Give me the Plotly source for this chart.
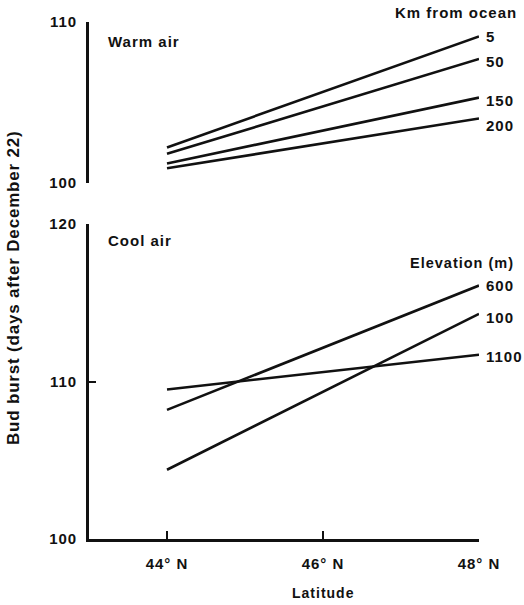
import plotly.graph_objects as go

# Latitude (degrees N) at the two ends of each fitted line
latitude = [44, 48]
lat_ticks = [44, 46, 48]
lat_labels = ["44° N", "46° N", "48° N"]

# Warm air: bud burst by distance from the ocean (km)
warm_names = ["5", "50", "150", "200"]
warm_values = [
    [102.2, 109.1],
    [101.8, 107.7],
    [101.2, 105.3],
    [100.9, 104.0],
]

# Cool air: bud burst by elevation (m)
cool_names = ["600", "100", "1100"]
cool_values = [
    [108.2, 116.1],
    [104.4, 114.3],
    [109.5, 111.7],
]

warm_ticks = [100, 110]
cool_ticks = [100, 110, 120]

FONT = "Liberation Sans"
INK = "#111111"


def tracked(text, spacing=1.0):
    """Bold text with a little letter spacing, like the typeset original."""
    return f'<span style="letter-spacing:{spacing}px">{text}</span>'


def bold(size):
    return dict(family=FONT, size=size, color=INK, weight="bold")


# downward nudge (px) of each end label, so labels clear one another
warm_label_dy = [0, 3, 3, 7]
cool_label_dy = [0, 4, 2]

fig = go.Figure()


def add_group(names, values, dys, xa, ya):
    for name, vals, dy in zip(names, values, dys):
        fig.add_trace(go.Scatter(x=latitude, y=vals, mode="lines", xaxis=xa, yaxis=ya,
                                 line=dict(color=INK, width=2.6), showlegend=False,
                                 name=name))
        fig.add_annotation(x=latitude[-1], y=vals[-1], xref=xa, yref=ya,
                           text=tracked(name), showarrow=False, xanchor="left",
                           yanchor="middle", xshift=5, yshift=-dy, font=bold(15))


add_group(warm_names, warm_values, warm_label_dy, "x2", "y2")
add_group(cool_names, cool_values, cool_label_dy, "x", "y")

axis_common = dict(showline=True, linecolor=INK, linewidth=2.6, ticks="inside",
                   tickwidth=2, tickcolor=INK, showgrid=False, zeroline=False,
                   tickfont=bold(15))

fig.update_layout(
    width=524, height=605,
    margin=dict(l=89, r=45, t=22, b=66),
    paper_bgcolor="white", plot_bgcolor="white",
    font=bold(15),
    xaxis=dict(range=[43, 48], tickvals=lat_ticks,
               ticktext=[tracked(t) for t in lat_labels],
               ticklen=8, ticklabelstandoff=9, anchor="y", **axis_common),
    yaxis=dict(domain=[0, 0.609], range=[100, 120], tickvals=cool_ticks,
               ticktext=[tracked(str(t)) for t in cool_ticks],
               ticklen=7, ticklabelstandoff=6, anchor="x", **axis_common),
    xaxis2=dict(range=[43, 48], matches="x", visible=False, anchor="y2"),
    yaxis2=dict(domain=[0.689, 1.0], range=[100, 110], tickvals=warm_ticks,
                ticktext=[tracked(str(t)) for t in warm_ticks],
                ticklen=7, ticklabelstandoff=6, anchor="x2", **axis_common),
)


def paper_x(px):
    return (px - 89) / 390


def paper_y(py):
    return (539 - py) / 517


labels = [
    ("Km from ocean", 519, 12, "right", 15),
    ("Warm air", 106, 41, "left", 15),
    ("Cool air", 106, 240, "left", 15),
    ("Elevation (m)", 516, 263, "right", 14.5),
    ("Latitude", 323, 593, "center", 14),
]
for text, px, py, anchor, size in labels:
    fig.add_annotation(x=paper_x(px), y=paper_y(py), xref="paper", yref="paper",
                       text=tracked(text), showarrow=False, xanchor=anchor,
                       yanchor="middle", font=bold(size))

fig.add_annotation(x=paper_x(14), y=paper_y(288), xref="paper", yref="paper",
                   text=tracked("Bud burst (days after December 22)", 0.8),
                   textangle=-90, showarrow=False, xanchor="center",
                   yanchor="middle", font=bold(17))

fig.write_html("out.html")
